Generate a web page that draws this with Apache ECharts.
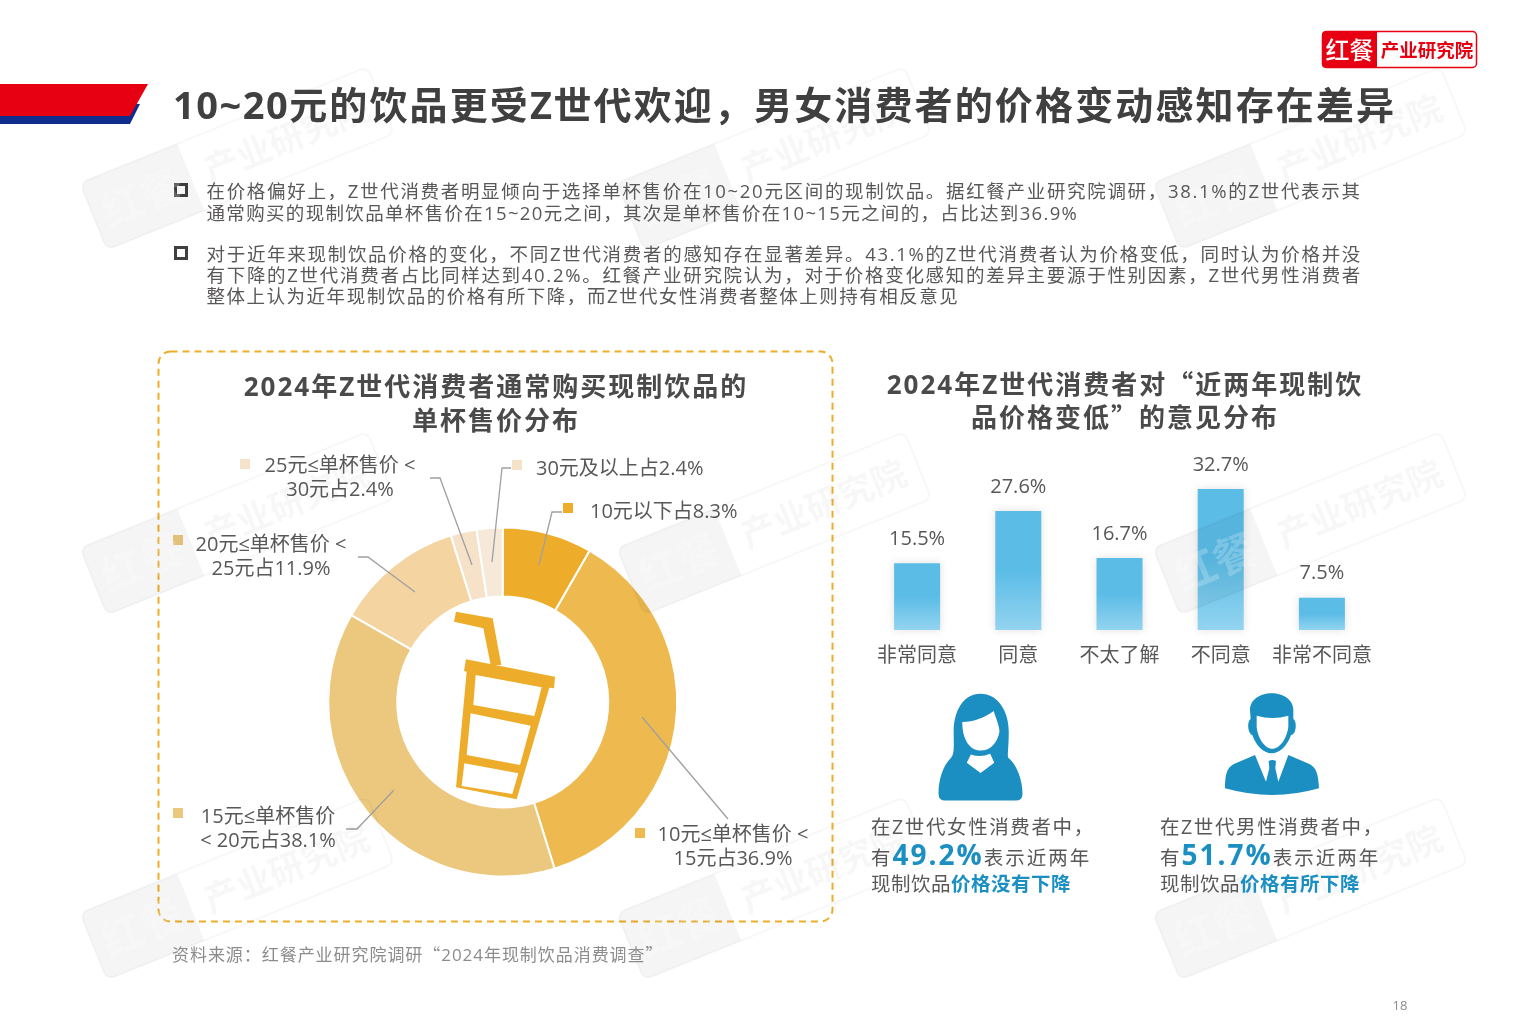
<!DOCTYPE html>
<html lang="zh">
<head>
<meta charset="utf-8">
<title>10~20元的饮品更受Z世代欢迎</title>
<script src="https://cdn.jsdelivr.net/npm/echarts@6/dist/echarts.min.js"></script>
<style>
html,body{margin:0;padding:0;background:#fff;}
#stage{position:relative;width:1530px;height:1020px;overflow:hidden;font-family:"Open Sans","Noto Sans CJK SC",sans-serif;}
#chart{position:absolute;left:0;top:0;width:1530px;height:1020px;}
.t{position:absolute;white-space:nowrap;color:#595757;transform:translateY(-50%);}
.c{transform:translate(-50%,-50%);}
.q{font-family:"Noto Sans CJK SC",sans-serif;}
.l{letter-spacing:1.5px;}
b.blue{color:#1B8EC2;}
</style>
</head>
<body>
<div id="stage"><div id="chart"></div></div>
<script>
// ---------- data ----------
var priceNames = ['10元以下','10元≤单杯售价<15元','15元≤单杯售价<20元','20元≤单杯售价<25元','25元≤单杯售价<30元','30元及以上'];
var priceValues = [8.3, 36.9, 38.1, 11.9, 2.4, 2.4];
var priceLabels = ['10元以下占8.3%','10元≤单杯售价 <\n15元占36.9%','15元≤单杯售价\n< 20元占38.1%','20元≤单杯售价 <\n25元占11.9%','25元≤单杯售价 <\n30元占2.4%','30元及以上占2.4%'];
var opinionCategories = ['非常同意','同意','不太了解','不同意','非常不同意'];
var opinionValues = [15.5, 27.6, 16.7, 32.7, 7.5];
var femaleNoDrop = '49.2%';
var maleDrop = '51.7%';

// ---------- text ----------
var pageTitle = '<span class="l">10~20</span>元的饮品更受<span class="l">Z</span>世代欢迎，男女消费者的价格变动感知存在差异';
var para1 = ['在价格偏好上，Z世代消费者明显倾向于选择单杯售价在10~20元区间的现制饮品。据红餐产业研究院调研，38.1%的Z世代表示其',
             '通常购买的现制饮品单杯售价在15~20元之间，其次是单杯售价在10~15元之间的，占比达到36.9%'];
var para2 = ['对于近年来现制饮品价格的变化，不同Z世代消费者的感知存在显著差异。43.1%的Z世代消费者认为价格变低，同时认为价格并没',
             '有下降的Z世代消费者占比同样达到40.2%。红餐产业研究院认为，对于价格变化感知的差异主要源于性别因素，Z世代男性消费者',
             '整体上认为近年现制饮品的价格有所下降，而Z世代女性消费者整体上则持有相反意见'];
var leftTitle = ['2024年Z世代消费者通常购买现制饮品的','单杯售价分布'];
var rightTitle = ['2024年Z世代消费者对<span class="q">“</span>近两年现制饮','品价格变低<span class="q">”</span>的意见分布'];
var sourceNote = '资料来源：红餐产业研究院调研<span class="q">“</span>2024年现制饮品消费调查<span class="q">”</span>';
var pageNumber = '18';

// ---------- layout / style (separate from the values) ----------
var FF = '"Open Sans","Noto Sans CJK SC",sans-serif';
var sliceColors = ['#EDAD2B','#EEBA4F','#ECC87E','#F4D4A0','#F5E2C8','#F6E9DA'];
var para1Spacing = [1.68, 1.33], para2Spacing = [1.7, 1.7, 1.52];
var labelAnchors = [[590,512,'left'],[733,847,'center'],[268,829,'center'],[271,557,'center'],[340,478,'center'],[536,469,'left']];
var labelLines = [
  [[539,565],[552,512],[562,512]],
  [[642,717],[728,819]],
  [[394,790],[357,829],[346,829]],
  [[415,592],[368,557],[358,557]],
  [[472,565],[440,478],[430,478]],
  [[492,562],[502,468],[511,468]]
];
var markerSpots = [[568,508,0],[640,833,1],[178,813,2],[178,540,2],[245,464,4],[517,465,4]];
var wmCols = [80,617,1153], wmRows = [183,548,913];

function addText(txt, x, y, size, opt){
  opt = opt || {};
  var d = document.createElement('div');
  d.className = 't' + (opt.center ? ' c' : '');
  d.style.left = x + 'px'; d.style.top = y + 'px';
  d.style.fontSize = size + 'px';
  d.style.letterSpacing = (opt.ls || 0) + 'px';
  if (opt.bold) d.style.fontWeight = 700;
  if (opt.color) d.style.color = opt.color;
  d.innerHTML = txt;
  document.getElementById('stage').appendChild(d);
}

addText(pageTitle, 173, 101.5, 38, {bold:true, color:'#404040', ls:2.13});
para1.forEach(function(s,i){ addText(s, 206.5, 190 + i*21.5, 18.5, {ls:para1Spacing[i]}); });
para2.forEach(function(s,i){ addText(s, 206.5, 253 + i*21, 18.5, {ls:para2Spacing[i]}); });
leftTitle.forEach(function(s,i){ addText(s, 496, 385 + i*33.5, 26, {bold:true, center:true, color:'#4a4a4a', ls:2}); });
rightTitle.forEach(function(s,i){ addText(s, 1125, 383 + i*33, 26, {bold:true, center:true, color:'#4a4a4a', ls:2}); });
addText(sourceNote, 172, 953, 17, {color:'#8c8c8c', ls:0.95});
addText(pageNumber, 1400, 1005, 13, {center:true, color:'#8c8c8c'});

function callout(x, gender, num, tail){
  addText('在Z世代'+gender+'性消费者中，', x, 825, 19.5, {ls:1.6});
  addText('有<b class="blue" style="font-size:28px;letter-spacing:2px">'+num+'</b>表示近两年', x, 854, 19.5, {ls:2});
  addText('现制饮品<b class="blue">'+tail+'</b>', x, 882, 19.5, {ls:0.5});
}
callout(871,'女',femaleNoDrop,'价格没有下降');
callout(1160,'男',maleDrop,'价格有所下降');

// ---------- icon shapes ----------
var iconPaths = {
  femaleBody:'M350 40C300 40 272 90 272 150C272 190 275 212 265 225C240 250 228 290 228 330Q228 350 248 350L452 350Q472 350 472 330C472 290 455 245 430 225C428 212 432 190 432 150C432 90 400 40 350 40Z',
  femaleFace:'M297 122C330 122 365 108 388 90C395 110 405 135 405 150C400 180 380 205 350 205C320 205 297 175 297 122Z',
  femaleCollar:'M322 216L310 240L350 270L390 240L378 214Q350 226 322 216Z',
  maleHead:'M185 25C150 25 120 45 120 75L122 102C114 107 113 125 117 138C120 146 124 150 127 150C137 180 160 205 185 205C210 205 233 180 243 150C248 150 252 146 255 138C259 125 258 107 250 102L250 75C250 45 220 25 185 25Z',
  maleFace:'M140 92Q187 106 235 92L235 125C231 160 210 191 187 191C165 191 143 160 140 125Z',
  maleBody:'M45 310C45 270 50 250 70 238L135 210L168 290L178 250L176 228Q187 222 198 228L196 250L205 290L235 210L300 238C320 250 325 270 327 310Q187 350 45 310Z'
};
Object.keys(iconPaths).forEach(function(k){
  echarts.graphic.registerShape(k, echarts.graphic.extendPath(iconPaths[k], {}));
});

// ---------- decoration ----------
var graphics = [
  {type:'polygon', silent:true, shape:{points:[[0,104],[140,104],[130,124],[0,124]]}, style:{fill:'#102D8D'}},
  {type:'polygon', silent:true, shape:{points:[[0,84],[148,84],[130,116],[0,116]]}, style:{fill:'#E60012'}},
  {type:'rect', silent:true, shape:{x:158.5,y:351.5,width:674,height:570,r:12}, style:{fill:'none',stroke:'#EDAD2B',lineWidth:2,lineDash:[7,5]}},
  // logo
  {type:'rect', silent:true, shape:{x:1322.5,y:31.5,width:154,height:36,r:4}, style:{fill:'#fff',stroke:'#E60012',lineWidth:1.5}},
  {type:'rect', silent:true, shape:{x:1322,y:31,width:55,height:37,r:[4,0,0,4]}, style:{fill:'#E60012'}},
  {type:'text', silent:true, style:{x:1349.5,y:49.5,text:'红餐',fill:'#fff',font:'500 24px "Noto Sans CJK SC"',align:'center',verticalAlign:'middle'}},
  {type:'text', silent:true, style:{x:1427,y:50,text:'产业研究院',fill:'#E60012',font:'700 18.5px "Noto Sans CJK SC"',align:'center',verticalAlign:'middle'}}
];
// bullets
[191,254].forEach(function(y){
  graphics.push({type:'rect', silent:true, shape:{x:175.5,y:y-6.5,width:11,height:11}, style:{fill:'none',stroke:'#404040',lineWidth:3}});
});
// legend squares beside the labels
markerSpots.forEach(function(m){
  graphics.push({type:'rect', silent:true, shape:{x:m[0]-5,y:m[1]-5,width:10,height:10}, style:{fill:sliceColors[m[2]]}});
});
// leader lines, drawn over the ring
labelLines.forEach(function(pts){
  graphics.push({type:'polyline', silent:true, z:50, shape:{points:pts}, style:{fill:'none',stroke:'#a0a0a0',lineWidth:1.3}});
});
// drinking-cup icon (drawn in 3x-crop space)
var cupFill = '#EDAD2B';
graphics.push({type:'group', silent:true, z:40, x:300, y:500, scaleX:1/3, scaleY:1/3, children:[
  {type:'polygon', shape:{points:[[468,335],[578,355],[604,495],[572,495],[550,385],[462,365]]}, style:{fill:cupFill}},
  {type:'polygon', shape:{points:[[498,478],[765,530],[762,565],[748,563],[650,898],[468,862],[500,515],[492,513]]}, style:{fill:cupFill}},
  {type:'polygon', shape:{points:[[527,525],[725,562],[703,648],[520,615]]}, style:{fill:'#fff'}},
  {type:'polygon', shape:{points:[[512,640],[692,677],[660,795],[500,765]]}, style:{fill:'#fff'}},
  {type:'polygon', shape:{points:[[493,790],[655,820],[637,882],[485,858]]}, style:{fill:'#fff'}}
]});
// people icons
var personBlue = '#1B8EC2';
graphics.push({type:'group', silent:true, x:860, y:680, scaleX:1/2.904, scaleY:1/2.904, children:[
  {type:'femaleBody', style:{fill:personBlue}},
  {type:'femaleFace', style:{fill:'#fff'}},
  {type:'femaleCollar', style:{fill:'#fff'}}
]});
graphics.push({type:'group', silent:true, x:1210, y:685, scaleX:1/3, scaleY:1/3, children:[
  {type:'maleHead', style:{fill:personBlue}},
  {type:'maleFace', style:{fill:'#fff'}},
  {type:'maleBody', style:{fill:personBlue}}
]});
// watermarks
wmCols.forEach(function(x){ wmRows.forEach(function(y){
  graphics.push({type:'group', silent:true, z:100, x:x, y:y, rotation:22*Math.PI/180, children:[
    {type:'rect', z:100, shape:{x:0,y:0,width:310,height:72,r:8}, style:{fill:'none',stroke:'rgba(0,0,0,0.03)',lineWidth:2}},
    {type:'rect', z:100, shape:{x:0,y:0,width:105,height:72,r:[8,0,0,8]}, style:{fill:'rgba(0,0,0,0.04)'}},
    {type:'text', z:100, style:{x:52,y:36,text:'红餐',fill:'rgba(255,255,255,0.22)',font:'700 42px "Noto Sans CJK SC"',align:'center',verticalAlign:'middle'}},
    {type:'text', z:100, style:{x:208,y:36,text:'产业研究院',fill:'rgba(0,0,0,0.03)',font:'700 35px "Noto Sans CJK SC"',align:'center',verticalAlign:'middle'}}
  ]});
});});

// ---------- chart ----------
var chart = echarts.init(document.getElementById('chart'), null, {renderer:'canvas', width:1530, height:1020});
chart.setOption({
  animation:false,
  backgroundColor:'#fff',
  textStyle:{fontFamily:FF},
  graphic:{elements:graphics},
  grid:{left:866.5, top:457.6, width:506, height:172.4, containLabel:false},
  xAxis:{type:'category', data:opinionCategories, axisLine:{show:false}, axisTick:{show:false},
         axisLabel:{color:'#595757', fontSize:20, fontFamily:FF, margin:16, interval:0}},
  yAxis:{type:'value', min:0, max:40, show:false, splitLine:{show:false}},
  series:[
    {type:'pie', center:[502.7,702], radius:[105.5,174.5], startAngle:90, silent:true, avoidLabelOverlap:false,
     itemStyle:{borderColor:'#fff', borderWidth:2},
     label:{show:true, position:'outside', color:'#595757', fontSize:20, fontFamily:FF, lineHeight:24,
            formatter:function(p){return priceLabels[p.dataIndex];}},
     labelLine:{show:false},
     labelLayout:function(p){
       var a = labelAnchors[p.dataIndex];
       return {x:a[0], y:a[1], align:a[2], verticalAlign:'middle'};
     },
     data:priceNames.map(function(n,i){return {name:n, value:priceValues[i], itemStyle:{color:sliceColors[i]}};})
    },
    {type:'bar', data:opinionValues, barWidth:46, silent:true,
     itemStyle:{shadowColor:'rgba(0,0,0,0.12)', shadowBlur:8,
       color:new echarts.graphic.LinearGradient(0,0,0,1,[{offset:0,color:'#5BBCE6'},{offset:0.5,color:'#5BBCE6'},{offset:1,color:'#93D4F0'}])},
     label:{show:true, position:'top', distance:14, color:'#595757', fontSize:20, fontFamily:FF, formatter:'{c}%'}
    }
  ]
});
</script>
</body>
</html>
